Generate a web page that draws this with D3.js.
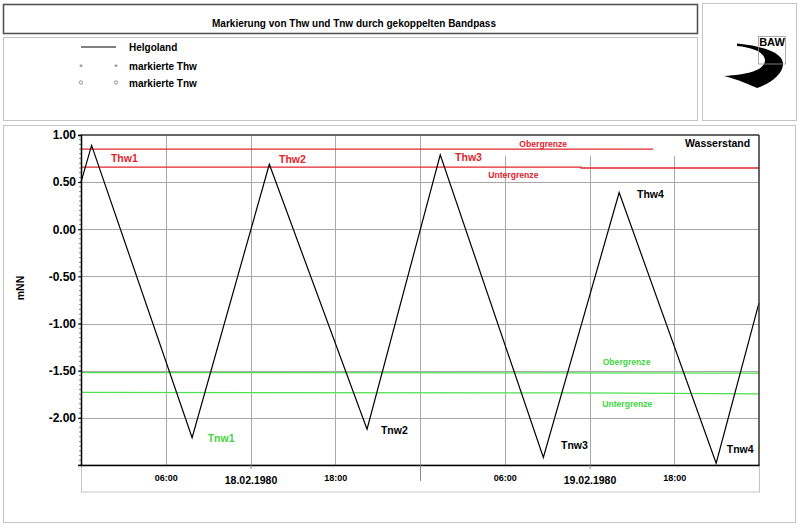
<!DOCTYPE html>
<html><head><meta charset="utf-8">
<script src="https://cdn.jsdelivr.net/npm/d3@7"></script>
<style>body{margin:0;background:#fff}svg{display:block;font-family:"Liberation Sans",Arial,sans-serif}</style>
</head><body><svg id="c" width="800" height="528"></svg>
<script>
// ---- data ----
const title = "Markierung von Thw und Tnw durch gekoppelten Bandpass";
const seriesName = "Helgoland";
const times = ["1980-02-18 00:00","1980-02-18 00:45","1980-02-18 07:52","1980-02-18 13:20","1980-02-18 20:15",
               "1980-02-19 01:26","1980-02-19 08:44","1980-02-19 14:06","1980-02-19 20:58","1980-02-20 00:00"];
const levels = [0.50, 0.89, -2.21, 0.69, -2.12, 0.79, -2.42, 0.39, -2.48, -0.78];
const thwUpperTimes = ["1980-02-18 00:00","1980-02-19 16:30"];
const thwUpperVals  = [0.85, 0.85];
const thwLowerTimes = ["1980-02-18 00:00","1980-02-19 11:24","1980-02-19 11:24","1980-02-20 00:00"];
const thwLowerVals  = [0.66, 0.66, 0.65, 0.65];
const tnwUpperTimes = ["1980-02-18 00:00","1980-02-20 00:00"];
const tnwUpperVals  = [-1.52, -1.525];
const tnwLowerTimes = ["1980-02-18 00:00","1980-02-19 11:24","1980-02-20 00:00"];
const tnwLowerVals  = [-1.73, -1.735, -1.745];
const yTicks = [-2.0, -1.5, -1.0, -0.5, 0.0, 0.5, 1.0];
const timeTicks = ["1980-02-18 06:00","1980-02-18 18:00","1980-02-19 06:00","1980-02-19 18:00"];
const dateTicks = ["1980-02-18 12:00","1980-02-19 12:00"];
const dayTicks = ["1980-02-19 00:00"];
const annoText  = ["Thw1","Thw2","Thw3","Thw4","Tnw1","Tnw2","Tnw3","Tnw4"];
const annoTimes = ["1980-02-18 02:07","1980-02-18 14:01","1980-02-19 02:29","1980-02-19 15:22",
                   "1980-02-18 08:58","1980-02-18 21:14","1980-02-19 09:59","1980-02-19 21:43"];
const annoVals  = [0.714, 0.70, 0.722, 0.327, -2.254, -2.173, -2.325, -2.378];
const annoKind  = ["red","red","red","black","green","black","black","black"];
const limitText  = ["Obergrenze","Untergrenze","Obergrenze","Untergrenze"];
const limitTimes = ["1980-02-19 07:02","1980-02-19 04:50","1980-02-19 12:56","1980-02-19 12:54"];
const limitVals  = [0.873, 0.539, -1.439, -1.888];
const limitKind  = ["red","red","green","green"];

// ---- setup ----
const parse = d3.timeParse("%Y-%m-%d %H:%M");
const RED = "#e2242e", GREEN = "#4ee04e", GREENTXT = "#3fd63f", GRID = "#a8a8a8";
const col = k => k === "red" ? RED : k === "green" ? GREENTXT : "#000";
const svg = d3.select("#c");
const L = 81, R = 759, T = 135, B = 465;
const x = d3.scaleTime().domain([parse("1980-02-18 00:00"), parse("1980-02-20 00:00")]).range([L, R]);
const y = d3.scaleLinear().domain([-2.5, 1.0]).range([B, T]);
const fmt = d3.formatLocale({decimal:".", thousands:",", grouping:[3], currency:["",""], minus:"-"}).format(".2f");

// ---- frames ----
svg.append("rect").attr("x",3.5).attr("y",4.5).attr("width",694).attr("height",29).attr("fill","#fff").attr("stroke","#555").attr("stroke-width",1.6);
svg.append("text").attr("x",354).attr("y",26.5).attr("text-anchor","middle").attr("font-size",10).attr("font-weight","bold").text(title);
svg.append("rect").attr("x",3.5).attr("y",37.5).attr("width",694).attr("height",83).attr("fill","#fff").attr("stroke","#c4c4c4");
svg.append("rect").attr("x",702.5).attr("y",3.5).attr("width",94).attr("height",117).attr("fill","#fff").attr("stroke","#c4c4c4");
svg.append("rect").attr("x",3.5).attr("y",125.5).attr("width",792).attr("height",397).attr("fill","#fff").attr("stroke","#c4c4c4");

// ---- legend ----
const lg = svg.append("g").attr("font-size",10).attr("font-weight","bold");
lg.append("line").attr("x1",81).attr("x2",116).attr("y1",47).attr("y2",47).attr("stroke","#000").attr("stroke-width",1.2);
lg.append("text").attr("x",129).attr("y",51).text(seriesName);
[81,116].forEach(px => {
  lg.append("text").attr("x",px).attr("y",70).attr("text-anchor","middle").attr("font-size",9).attr("font-weight","normal").attr("fill","#777").text("*");
  lg.append("circle").attr("cx",px).attr("cy",82.5).attr("r",1.7).attr("fill","none").attr("stroke","#888").attr("stroke-width",0.9);
});
lg.append("text").attr("x",129).attr("y",69.5).text("markierte Thw");
lg.append("text").attr("x",129).attr("y",86.5).text("markierte Tnw");

// ---- logo ----
const logo = svg.append("g");
logo.append("path").attr("fill","#000").attr("d",
 "M724,76 C740,80 750,85 757,88 C772,83 782,74 783,65 C784,56 772,47 737,43.5 L737,46 C753,47.5 764,52 765,60 C765,69 752,74.5 724,76 Z");
logo.append("rect").attr("x",758.5).attr("y",36.5).attr("width",27).attr("height",27.5).attr("fill","none").attr("stroke","#999").attr("stroke-width",0.8);
logo.append("text").attr("x",772).attr("y",46).attr("text-anchor","middle").attr("font-size",11).attr("font-weight","bold").text("BAW");

// ---- bottom label box ----
svg.append("rect").attr("x",L+0.5).attr("y",B).attr("width",R-L).attr("height",27).attr("fill","#fff").attr("stroke","#c4c4c4");

// ---- grid ----
const allTicks = d3.timeHour.every(6).range(parse("1980-02-18 06:00"), parse("1980-02-20 00:00"));
const dayBreak = parse("1980-02-19 00:00");
svg.append("g").selectAll("line").data(allTicks).join("line")
  .attr("x1",d=>Math.round(x(d))+0.5).attr("x2",d=>Math.round(x(d))+0.5)
  .attr("y1",d=> d > dayBreak ? y(0.78) : T).attr("y2",B)
  .attr("stroke",GRID).attr("stroke-width",1);
svg.append("g").selectAll("line").data(yTicks.filter(v=>v>-2.5 && v<1)).join("line")
  .attr("x1",L).attr("x2",R).attr("y1",d=>Math.round(y(d))+0.5).attr("y2",d=>Math.round(y(d))+0.5)
  .attr("stroke",GRID).attr("stroke-width",1);

// ---- limit lines ----
const line = d3.line().x(d=>x(d[0])).y(d=>y(d[1]));
const zipP = (ts, vs) => ts.map((t,i)=>[parse(t), vs[i]]);
[[thwUpperTimes,thwUpperVals,RED],[thwLowerTimes,thwLowerVals,RED],
 [tnwUpperTimes,tnwUpperVals,GREEN],[tnwLowerTimes,tnwLowerVals,GREEN]].forEach(([ts,vs,c])=>{
  svg.append("path").attr("d",line(zipP(ts,vs))).attr("fill","none").attr("stroke",c).attr("stroke-width",1.3);
});

// ---- water level ----
svg.append("path").attr("d",line(zipP(times,levels))).attr("fill","none").attr("stroke","#000").attr("stroke-width",1.2);

// ---- plot borders ----
svg.append("line").attr("x1",L).attr("x2",R).attr("y1",T).attr("y2",T).attr("stroke","#666").attr("stroke-width",2);
svg.append("line").attr("x1",R).attr("x2",R).attr("y1",T).attr("y2",B).attr("stroke","#333").attr("stroke-width",1.5);

// ---- axes ----
const minor = d3.range(-2.5, 1.0001, 0.05);
svg.append("g").selectAll("line").data(minor).join("line")
  .attr("x1",L-2).attr("x2",L).attr("y1",d=>y(d)).attr("y2",d=>y(d)).attr("stroke","#555").attr("stroke-width",0.7);
const ya = svg.append("g").attr("transform",`translate(${L},0)`)
  .call(d3.axisLeft(y).tickValues(yTicks).tickFormat(fmt).tickSize(3).tickPadding(2));
ya.select(".domain").attr("stroke","#000").attr("stroke-width",1.5);
ya.selectAll("text").attr("font-size",12).attr("font-weight","bold").attr("font-family","Liberation Sans, Arial, sans-serif").attr("fill","#000");

const xa = svg.append("g").attr("transform",`translate(0,${B})`)
  .call(d3.axisBottom(x).tickValues(timeTicks.map(parse)).tickFormat(d3.timeFormat("%H:%M")).tickSize(0).tickPadding(10));
xa.select(".domain").attr("stroke","#000").attr("stroke-width",1.5);
xa.selectAll("text").attr("font-size",9).attr("font-weight","bold").attr("font-family","Liberation Sans, Arial, sans-serif");
const da = svg.append("g").attr("transform",`translate(0,${B})`)
  .call(d3.axisBottom(x).tickValues(dateTicks.map(parse)).tickFormat(d3.timeFormat("%d.%m.%Y")).tickSize(4).tickPadding(8));
da.select(".domain").remove();
da.selectAll("line").attr("stroke","#888");
da.selectAll("text").attr("font-size",10.5).attr("font-weight","bold").attr("font-family","Liberation Sans, Arial, sans-serif");
const ma = svg.append("g").attr("transform",`translate(0,${B})`)
  .call(d3.axisBottom(x).tickValues(dayTicks.map(parse)).tickFormat("").tickSize(16));
ma.select(".domain").remove();
ma.selectAll("line").attr("stroke","#888");

svg.append("text").attr("transform","translate(24,288) rotate(-90)").attr("text-anchor","middle")
  .attr("font-size",10.5).attr("font-weight","bold").text("mNN");

// ---- annotations ----
svg.append("g").selectAll("text").data(annoText).join("text")
  .attr("x",(d,i)=>x(parse(annoTimes[i]))).attr("y",(d,i)=>y(annoVals[i]))
  .attr("font-size",10.5).attr("font-weight","bold").attr("fill",(d,i)=>col(annoKind[i])).text(d=>d);
svg.append("g").selectAll("text").data(limitText).join("text")
  .attr("x",(d,i)=>x(parse(limitTimes[i]))).attr("y",(d,i)=>y(limitVals[i]))
  .attr("font-size",8.6).attr("font-weight","bold").attr("fill",(d,i)=>col(limitKind[i])).text(d=>d);
svg.append("text").attr("x",x(parse("1980-02-19 18:46"))).attr("y",y(0.874))
  .attr("font-size",10.5).attr("font-weight","bold").text("Wasserstand");
</script></body></html>
